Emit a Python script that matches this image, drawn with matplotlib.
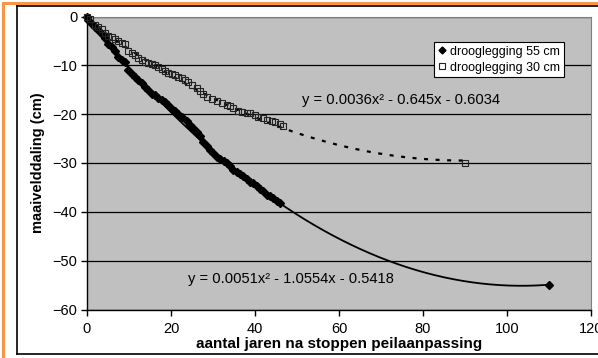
import numpy as np
import matplotlib
matplotlib.use('Agg')
import matplotlib.pyplot as plt
from matplotlib.lines import Line2D

plt.rcParams['font.family'] = ['Liberation Sans', 'DejaVu Sans']

# droogleggging 55 cm (gemeten)
jaren_55 = [0.0, 0.3, 1.1, 1.9, 2.7, 3.5, 4.3, 5.1, 5.9, 6.7, 7.5, 8.3, 9.0, 9.8, 10.6,
            11.4, 12.2, 13.0, 13.8, 14.6, 15.4, 16.2, 17.0, 17.8, 18.6, 19.4, 20.2,
            20.9, 21.7, 22.5, 23.7, 24.5, 25.3, 26.1, 26.9, 27.7, 28.5, 29.3, 30.1,
            30.9, 31.7, 32.5, 33.3, 34.0, 34.8, 35.6, 36.4, 37.2, 38.0, 38.8, 39.6,
            40.4, 41.2, 42.0, 42.8, 43.6, 44.4, 45.2, 46.0, 110.0]
daling_55 = [-0.1, -0.8, -1.5, -2.1, -2.8, -3.5, -4.5, -5.6, -6.2, -7.1, -8.3, -9.0, -9.4,
             -11.0, -11.7, -12.4, -13.1, -13.7, -14.4, -15.1, -15.8, -16.1, -16.7, -17.1,
             -17.5, -18.2, -18.9, -19.4, -19.9, -20.6, -21.5, -22.2, -22.9, -23.6, -24.4,
             -25.6, -26.6, -27.3, -28.0, -28.7, -29.2, -29.5, -30.0, -30.7, -31.5, -31.9,
             -32.2, -32.6, -33.3, -33.8, -34.1, -34.7, -35.3, -35.8, -36.5, -36.8, -37.2,
             -37.7, -38.2, -55.0]

# drooglegging 30 cm (gemeten)
jaren_30 = [0.0, 0.7, 1.9, 2.7, 3.5, 4.3, 5.1, 5.9, 6.7, 7.5, 8.3, 9.0, 9.8, 10.6, 11.4,
            12.2, 13.0, 13.8, 14.6, 15.4, 16.2, 17.0, 17.8, 18.6, 19.4, 20.2, 20.9,
            21.7, 22.5, 23.3, 24.1, 24.9, 26.1, 26.9, 27.7, 28.5, 29.7, 30.9, 32.1,
            33.3, 34.0, 34.8, 36.0, 36.8, 38.0, 38.8, 40.0, 40.8, 42.0, 42.8, 44.0,
            44.8, 46.0, 46.7, 90.0]
daling_30 = [-0.1, -0.45, -1.7, -2.1, -2.5, -3.3, -3.9, -4.3, -4.7, -5.1, -5.4, -5.6, -7.1,
             -7.5, -7.9, -8.5, -9.0, -9.3, -9.5, -9.8, -9.9, -10.3, -10.7, -11.2, -11.5,
             -11.8, -12.0, -12.3, -12.6, -13.0, -13.4, -14.0, -14.7, -15.2, -15.8, -16.4,
             -16.9, -17.4, -17.8, -18.1, -18.4, -18.8, -19.3, -19.5, -19.7, -19.8, -20.1,
             -20.5, -20.8, -21.2, -21.5, -21.7, -22.0, -22.4, -30.0]

# trendlijnen (coefficienten uit de grafiek)
coef_55 = [0.0051, -1.0554, -0.5418]
coef_30 = [0.0036, -0.645, -0.6034]
label_55 = 'y = 0.0051x² - 1.0554x - 0.5418'
label_30 = 'y = 0.0036x² - 0.645x - 0.6034'

W, H = 598, 358
fig = plt.figure(figsize=(W / 100, H / 100), dpi=100)
fig.patch.set_facecolor('white')

def fx(px):
    return px / W

def fy(py):
    return 1 - py / H

# orange outer border and black chart frame
fig.add_artist(Line2D([fx(3), fx(3)], [fy(3), fy(H + 5)], color='#F79646', lw=2.2))
fig.add_artist(Line2D([fx(3), fx(W + 5)], [fy(3), fy(3)], color='#F79646', lw=2.2))
fig.add_artist(Line2D([fx(16.5), fx(16.5)], [fy(5.5), fy(354)], color='black', lw=1.2))
fig.add_artist(Line2D([fx(16.5), fx(W + 5)], [fy(5.5), fy(5.5)], color='black', lw=1.2))
fig.add_artist(Line2D([fx(16.5), fx(W + 5)], [fy(354), fy(354)], color='black', lw=1.2))

ax = fig.add_axes([fx(87), fy(309.5), fx(591) - fx(87), fy(16.5) - fy(309.5)])
ax.set_facecolor('#C0C0C0')

ax.set_xlim(0, 120)
ax.set_ylim(-60, 0)
ax.set_xticks(range(0, 121, 20))
ax.set_yticks(range(-60, 1, 10))
ax.yaxis.grid(True, color='black', lw=0.9)
ax.set_axisbelow(True)

for s in ['top', 'right']:
    ax.spines[s].set_color('#808080')
    ax.spines[s].set_linewidth(0.8)
for s in ['left', 'bottom']:
    ax.spines[s].set_color('black')
    ax.spines[s].set_linewidth(1.0)
ax.tick_params(direction='out', length=4, width=1, labelsize=10.5, pad=3)
ax.tick_params(axis='x', pad=5)

xt = np.linspace(0, 110, 300)
ax.plot(xt, np.polyval(coef_55, xt), color='black', lw=1.3, zorder=2)
xt2 = np.linspace(0, 90, 300)
ax.plot(xt2, np.polyval(coef_30, xt2), color='black', lw=1.6,
        linestyle=(0, (1.8, 3.4)), zorder=2)

ax.plot(jaren_55, daling_55, linestyle='none', marker='D', markersize=4.4,
        color='black', label='drooglegging 55 cm', zorder=3, clip_on=False)
ax.plot(jaren_30, daling_30, linestyle='none', marker='s', markersize=5,
        markerfacecolor='none', markeredgecolor='#222222', markeredgewidth=0.8,
        label='drooglegging 30 cm', zorder=3, clip_on=False)

ax.text(51.2, -17.1, label_30, fontsize=10.6, va='center', ha='left')
ax.text(24.0, -53.7, label_55, fontsize=10.6, va='center', ha='left')

ax.set_xlabel('aantal jaren na stoppen peilaanpassing', fontsize=11,
              fontweight='bold', labelpad=1)
ax.set_ylabel('maaivelddaling (cm)', fontsize=10.5, fontweight='bold', labelpad=5)

leg = ax.legend(loc='upper left', bbox_to_anchor=(fx(434), fy(42)),
                bbox_transform=fig.transFigure, fontsize=9, frameon=True,
                fancybox=False, edgecolor='black', framealpha=1,
                handlelength=0.6, handletextpad=0.4, borderpad=0.3,
                labelspacing=0.3, borderaxespad=0, markerscale=0.8)
leg.get_frame().set_linewidth(0.8)

fig.savefig('out.png', dpi=100)
